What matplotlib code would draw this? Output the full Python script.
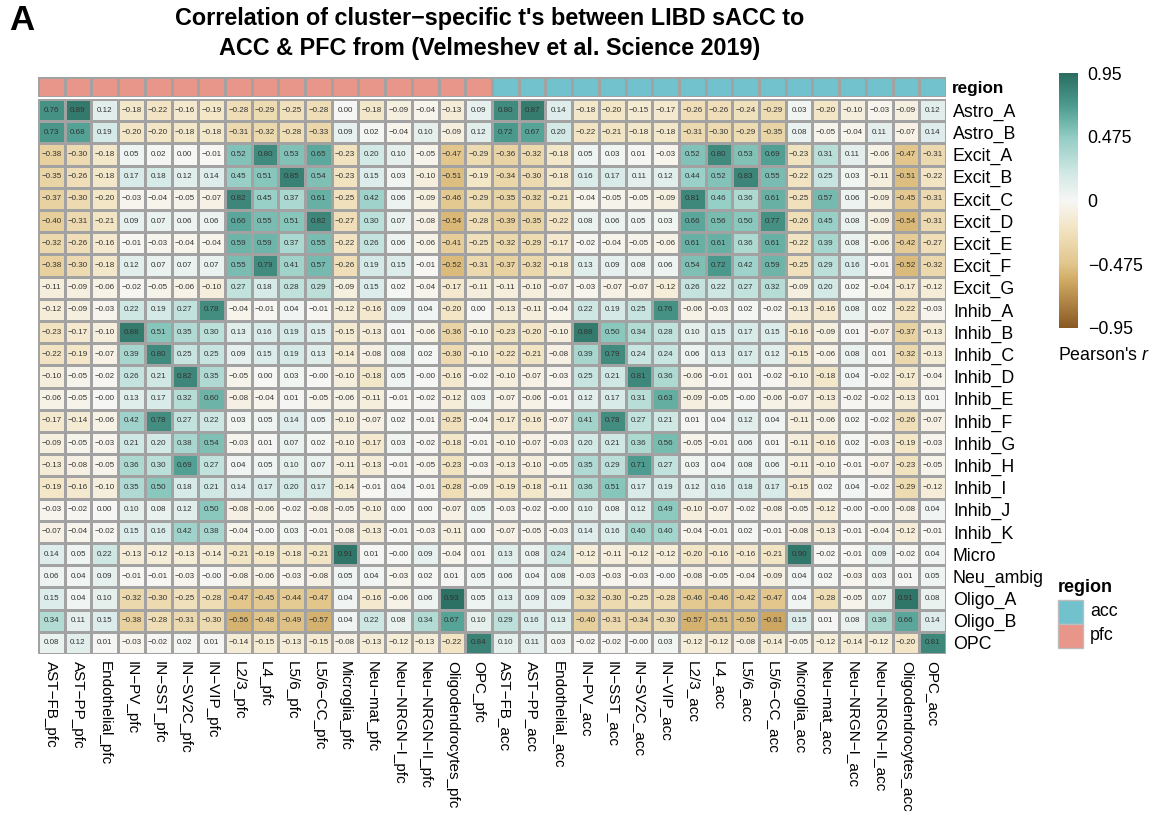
import numpy as np
import matplotlib
matplotlib.use('Agg')
import matplotlib.pyplot as plt
from matplotlib.colors import LinearSegmentedColormap, ListedColormap
from matplotlib.patches import Rectangle

plt.rcParams['font.family'] = ['Liberation Sans', 'DejaVu Sans']
plt.rcParams['mathtext.fontset'] = 'custom'
plt.rcParams['mathtext.it'] = 'Liberation Sans:italic'
plt.rcParams['mathtext.rm'] = 'Liberation Sans'

M = '\u2212'
cell_types = ['AST-FB', 'AST-PP', 'Endothelial', 'IN-PV', 'IN-SST', 'IN-SV2C', 'IN-VIP',
              'L2/3', 'L4', 'L5/6', 'L5/6-CC', 'Microglia', 'Neu-mat', 'Neu-NRGN-I',
              'Neu-NRGN-II', 'Oligodendrocytes', 'OPC']
regions = ['pfc', 'acc']
row_labels = ['Astro_A', 'Astro_B', 'Excit_A', 'Excit_B', 'Excit_C', 'Excit_D', 'Excit_E',
              'Excit_F', 'Excit_G', 'Inhib_A', 'Inhib_B', 'Inhib_C', 'Inhib_D', 'Inhib_E',
              'Inhib_F', 'Inhib_G', 'Inhib_H', 'Inhib_I', 'Inhib_J', 'Inhib_K', 'Micro',
              'Neu_ambig', 'Oligo_A', 'Oligo_B', 'OPC']

corr_pfc = [
    [0.76, 0.89, 0.12, -0.18, -0.22, -0.16, -0.19, -0.28, -0.29, -0.25, -0.28, 0.00, -0.18, -0.09, -0.04, -0.13, 0.09],
    [0.73, 0.68, 0.19, -0.20, -0.20, -0.18, -0.18, -0.31, -0.32, -0.28, -0.33, 0.09, 0.02, -0.04, 0.10, -0.09, 0.12],
    [-0.38, -0.30, -0.18, 0.05, 0.02, 0.00, -0.01, 0.52, 0.80, 0.53, 0.65, -0.23, 0.20, 0.10, -0.05, -0.47, -0.29],
    [-0.35, -0.26, -0.18, 0.17, 0.18, 0.12, 0.14, 0.45, 0.51, 0.85, 0.54, -0.23, 0.15, 0.03, -0.10, -0.51, -0.19],
    [-0.37, -0.30, -0.20, -0.03, -0.04, -0.05, -0.07, 0.82, 0.45, 0.37, 0.61, -0.25, 0.42, 0.06, -0.09, -0.46, -0.29],
    [-0.40, -0.31, -0.21, 0.09, 0.07, 0.06, 0.06, 0.66, 0.55, 0.51, 0.82, -0.27, 0.30, 0.07, -0.08, -0.54, -0.28],
    [-0.32, -0.26, -0.16, -0.01, -0.03, -0.04, -0.04, 0.59, 0.59, 0.37, 0.55, -0.22, 0.26, 0.06, -0.06, -0.41, -0.25],
    [-0.38, -0.30, -0.18, 0.12, 0.07, 0.07, 0.07, 0.55, 0.79, 0.41, 0.57, -0.26, 0.19, 0.15, -0.01, -0.52, -0.31],
    [-0.11, -0.09, -0.06, -0.02, -0.05, -0.06, -0.10, 0.27, 0.18, 0.28, 0.29, -0.09, 0.15, 0.02, -0.04, -0.17, -0.11],
    [-0.12, -0.09, -0.03, 0.22, 0.19, 0.27, 0.78, -0.04, -0.01, 0.04, -0.01, -0.12, -0.16, 0.09, 0.04, -0.20, 0.00],
    [-0.23, -0.17, -0.10, 0.88, 0.51, 0.35, 0.30, 0.13, 0.16, 0.19, 0.15, -0.15, -0.13, 0.01, -0.06, -0.36, -0.10],
    [-0.22, -0.19, -0.07, 0.39, 0.80, 0.25, 0.25, 0.09, 0.15, 0.19, 0.13, -0.14, -0.08, 0.08, 0.02, -0.30, -0.10],
    [-0.10, -0.05, -0.02, 0.26, 0.21, 0.82, 0.35, -0.05, 0.00, 0.03, -0.00, -0.10, -0.18, 0.05, -0.00, -0.16, -0.02],
    [-0.06, -0.05, -0.00, 0.13, 0.17, 0.32, 0.60, -0.08, -0.04, 0.01, -0.05, -0.06, -0.11, -0.01, -0.02, -0.12, 0.03],
    [-0.17, -0.14, -0.06, 0.42, 0.78, 0.27, 0.22, 0.03, 0.05, 0.14, 0.05, -0.10, -0.07, 0.02, -0.01, -0.25, -0.04],
    [-0.09, -0.05, -0.03, 0.21, 0.20, 0.38, 0.54, -0.03, 0.01, 0.07, 0.02, -0.10, -0.17, 0.03, -0.02, -0.18, -0.01],
    [-0.13, -0.08, -0.05, 0.36, 0.30, 0.69, 0.27, 0.04, 0.05, 0.10, 0.07, -0.11, -0.13, -0.01, -0.05, -0.23, -0.03],
    [-0.19, -0.16, -0.10, 0.35, 0.50, 0.18, 0.21, 0.14, 0.17, 0.20, 0.17, -0.14, -0.01, 0.04, -0.01, -0.28, -0.09],
    [-0.03, -0.02, 0.00, 0.10, 0.08, 0.12, 0.50, -0.08, -0.06, -0.02, -0.08, -0.05, -0.10, 0.00, 0.00, -0.07, 0.05],
    [-0.07, -0.04, -0.02, 0.15, 0.16, 0.42, 0.38, -0.04, -0.00, 0.03, -0.01, -0.08, -0.13, -0.01, -0.03, -0.11, 0.00],
    [0.14, 0.05, 0.22, -0.13, -0.12, -0.13, -0.14, -0.21, -0.19, -0.18, -0.21, 0.91, 0.01, -0.00, 0.09, -0.04, 0.01],
    [0.06, 0.04, 0.09, -0.01, -0.01, -0.03, -0.00, -0.08, -0.06, -0.03, -0.08, 0.05, 0.04, -0.03, 0.02, 0.01, 0.05],
    [0.15, 0.04, 0.10, -0.32, -0.30, -0.25, -0.28, -0.47, -0.45, -0.44, -0.47, 0.04, -0.16, -0.06, 0.06, 0.93, 0.05],
    [0.34, 0.11, 0.15, -0.38, -0.28, -0.31, -0.30, -0.56, -0.48, -0.49, -0.57, 0.04, 0.22, 0.08, 0.34, 0.67, 0.10],
    [0.08, 0.12, 0.01, -0.03, -0.02, 0.02, 0.01, -0.14, -0.15, -0.13, -0.15, -0.08, -0.13, -0.12, -0.13, -0.22, 0.84],
]

corr_acc = [
    [0.80, 0.87, 0.14, -0.18, -0.20, -0.15, -0.17, -0.26, -0.26, -0.24, -0.29, 0.03, -0.20, -0.10, -0.03, -0.09, 0.12],
    [0.72, 0.67, 0.20, -0.22, -0.21, -0.18, -0.18, -0.31, -0.30, -0.29, -0.35, 0.08, -0.05, -0.04, 0.11, -0.07, 0.14],
    [-0.36, -0.32, -0.18, 0.05, 0.03, 0.01, -0.03, 0.52, 0.80, 0.53, 0.69, -0.23, 0.31, 0.11, -0.06, -0.47, -0.31],
    [-0.34, -0.30, -0.18, 0.16, 0.17, 0.11, 0.12, 0.44, 0.52, 0.83, 0.55, -0.22, 0.25, 0.03, -0.11, -0.51, -0.22],
    [-0.35, -0.32, -0.21, -0.04, -0.05, -0.05, -0.09, 0.81, 0.46, 0.36, 0.61, -0.25, 0.57, 0.06, -0.09, -0.45, -0.31],
    [-0.39, -0.35, -0.22, 0.08, 0.06, 0.05, 0.03, 0.66, 0.56, 0.50, 0.77, -0.26, 0.45, 0.08, -0.09, -0.54, -0.31],
    [-0.32, -0.29, -0.17, -0.02, -0.04, -0.05, -0.06, 0.61, 0.61, 0.36, 0.61, -0.22, 0.39, 0.08, -0.06, -0.42, -0.27],
    [-0.37, -0.32, -0.18, 0.13, 0.09, 0.08, 0.06, 0.54, 0.72, 0.42, 0.59, -0.25, 0.29, 0.16, -0.01, -0.52, -0.32],
    [-0.11, -0.10, -0.07, -0.03, -0.07, -0.07, -0.12, 0.26, 0.22, 0.27, 0.32, -0.09, 0.20, 0.02, -0.04, -0.17, -0.12],
    [-0.13, -0.11, -0.04, 0.22, 0.19, 0.25, 0.76, -0.06, -0.03, 0.02, -0.02, -0.13, -0.16, 0.08, 0.02, -0.22, -0.03],
    [-0.23, -0.20, -0.10, 0.88, 0.50, 0.34, 0.28, 0.10, 0.15, 0.17, 0.15, -0.16, -0.09, 0.01, -0.07, -0.37, -0.13],
    [-0.22, -0.21, -0.08, 0.39, 0.79, 0.24, 0.24, 0.06, 0.13, 0.17, 0.12, -0.15, -0.06, 0.08, 0.01, -0.32, -0.13],
    [-0.10, -0.07, -0.03, 0.25, 0.21, 0.81, 0.36, -0.06, -0.01, 0.01, -0.02, -0.10, -0.18, 0.04, -0.02, -0.17, -0.04],
    [-0.07, -0.06, -0.01, 0.12, 0.17, 0.31, 0.63, -0.09, -0.05, -0.00, -0.06, -0.07, -0.13, -0.02, -0.02, -0.13, 0.01],
    [-0.17, -0.16, -0.07, 0.41, 0.78, 0.27, 0.21, 0.01, 0.04, 0.12, 0.04, -0.11, -0.06, 0.02, -0.02, -0.26, -0.07],
    [-0.10, -0.07, -0.03, 0.20, 0.21, 0.36, 0.56, -0.05, -0.01, 0.06, 0.01, -0.11, -0.16, 0.02, -0.03, -0.19, -0.03],
    [-0.13, -0.10, -0.05, 0.35, 0.29, 0.71, 0.27, 0.03, 0.04, 0.08, 0.06, -0.11, -0.10, -0.01, -0.07, -0.23, -0.05],
    [-0.19, -0.18, -0.11, 0.36, 0.51, 0.17, 0.19, 0.12, 0.16, 0.18, 0.17, -0.15, 0.02, 0.04, -0.02, -0.29, -0.12],
    [-0.03, -0.02, -0.00, 0.10, 0.08, 0.12, 0.49, -0.10, -0.07, -0.02, -0.08, -0.05, -0.12, -0.00, -0.00, -0.08, 0.04],
    [-0.07, -0.05, -0.03, 0.14, 0.16, 0.40, 0.40, -0.04, -0.01, 0.02, -0.01, -0.08, -0.13, -0.01, -0.04, -0.12, -0.01],
    [0.13, 0.08, 0.24, -0.12, -0.11, -0.12, -0.12, -0.20, -0.16, -0.16, -0.21, 0.90, -0.02, -0.01, 0.09, -0.02, 0.04],
    [0.06, 0.04, 0.08, -0.03, -0.03, -0.03, -0.00, -0.08, -0.05, -0.04, -0.09, 0.04, 0.02, -0.03, 0.03, 0.01, 0.05],
    [0.13, 0.09, 0.09, -0.32, -0.30, -0.25, -0.28, -0.46, -0.46, -0.42, -0.47, 0.04, -0.28, -0.05, 0.07, 0.91, 0.08],
    [0.29, 0.16, 0.13, -0.40, -0.31, -0.34, -0.30, -0.57, -0.51, -0.50, -0.61, 0.15, 0.01, 0.08, 0.36, 0.66, 0.14],
    [0.10, 0.11, 0.03, -0.02, -0.02, -0.00, 0.03, -0.12, -0.12, -0.08, -0.14, -0.05, -0.12, -0.14, -0.12, -0.20, 0.81],
]

colorbar_ticks = [0.95, 0.475, 0, -0.475, -0.95]
region_colors = {'acc': '#72c2cd', 'pfc': '#e8958a'}

# ---------------------------------------------------------------------------
W, H = 1158, 827
fig = plt.figure(figsize=(W / 100, H / 100), dpi=100)


def add_ax(l, t, r, b):
    return fig.add_axes([l / W, 1 - b / H, (r - l) / W, (b - t) / H])


cmap = LinearSegmentedColormap.from_list('pearson', [
    (0.0, '#8a5923'), (0.184, '#d0aa64'), (0.25, '#e2c68c'), (0.395, '#f3e6c6'),
    (0.5, '#f7f7f5'), (0.605, '#d3e9e6'), (0.75, '#92cdc3'), (0.868, '#4f9e91'),
    (1.0, '#2a6e61')])

data = np.hstack([np.array(corr_pfc), np.array(corr_acc)])
col_labels = [(c + '_' + r).replace('-', M) for r in regions for c in cell_types]
col_region = [r for r in regions for c in cell_types]
nrow, ncol = data.shape

grid_col = '#a2a2a2'

# main heatmap
ax = add_ax(38, 99, 946, 654)
ax.pcolormesh(np.arange(ncol + 1), np.arange(nrow + 1), data, cmap=cmap,
              vmin=-0.95, vmax=0.95, edgecolors=grid_col, linewidth=1.0)
ax.set_xlim(0, ncol)
ax.set_ylim(nrow, 0)
for i in range(nrow):
    for j in range(ncol):
        ax.text(j + 0.5, i + 0.5, f"{data[i, j]:.2f}".replace('-', M),
                ha='center', va='center', fontsize=5.8, color='#333333')
ax.set_xticks(np.arange(ncol) + 0.5)
ax.set_xticklabels(col_labels, rotation=270, fontsize=11)
ax.yaxis.tick_right()
ax.set_yticks(np.arange(nrow) + 0.5)
ax.set_yticklabels(row_labels, fontsize=12.8)
ax.tick_params(axis='y', length=0, pad=5)
ax.tick_params(axis='x', length=0, pad=5)
for s in ax.spines.values():
    s.set_visible(False)

# annotation bar
ax2 = add_ax(38, 77, 946, 97)
codes = np.array([[regions.index(r) for r in col_region]])
ax2.pcolormesh(np.arange(ncol + 1), [0, 1], codes,
               cmap=ListedColormap([region_colors['pfc'], region_colors['acc']]),
               vmin=-0.5, vmax=1.5, edgecolors=grid_col, linewidth=1.0)
ax2.set_xlim(0, ncol)
ax2.set_ylim(1, 0)
ax2.set_xticks([])
ax2.set_yticks([])
for s in ax2.spines.values():
    s.set_visible(False)
fig.text(952 / W, 1 - 88 / H, 'region', fontsize=12.3, fontweight='bold',
         ha='left', va='center')

# colorbar
cax = add_ax(1059, 73, 1078, 328)
grad = np.linspace(-0.95, 0.95, 256).reshape(-1, 1)
cax.imshow(grad, aspect='auto', cmap=cmap, origin='lower',
           extent=[0, 1, -0.95, 0.95], vmin=-0.95, vmax=0.95)
cax.set_xticks([])
cax.yaxis.tick_right()
cax.set_yticks(colorbar_ticks)
cax.set_yticklabels([('%g' % t).replace('-', M) for t in colorbar_ticks], fontsize=12.8)
cax.tick_params(length=0, pad=7)
for s in cax.spines.values():
    s.set_visible(False)
fig.text(1058 / W, 1 - 355 / H, "Pearson's $r$", fontsize=12.8, ha='left', va='center')

# region legend
fig.text(1058 / W, 1 - 587 / H, 'region', fontsize=13, fontweight='bold',
         ha='left', va='center')
for k, (lab, y0) in enumerate([('acc', 600), ('pfc', 624)]):
    fig.add_artist(Rectangle((1058 / W, 1 - (y0 + 24) / H), 25 / W, 24 / H,
                             transform=fig.transFigure, facecolor=region_colors[lab],
                             edgecolor='#bdbdbd', linewidth=1.0))
    fig.text(1090 / W, 1 - (y0 + 12) / H, lab, fontsize=12.8, ha='left', va='center')

# titles
fig.text(490 / W, 1 - 19 / H, "Correlation of cluster" + M + "specific t's between LIBD sACC to",
         fontsize=16.8, fontweight='bold', ha='center', va='center')
fig.text(490 / W, 1 - 48 / H, "ACC & PFC from (Velmeshev et al. Science 2019)",
         fontsize=16.8, fontweight='bold', ha='center', va='center')
fig.text(9 / W, 1 - 20 / H, 'A', fontsize=25, fontweight='bold', ha='left', va='center')

fig.savefig('out.png', dpi=100)
